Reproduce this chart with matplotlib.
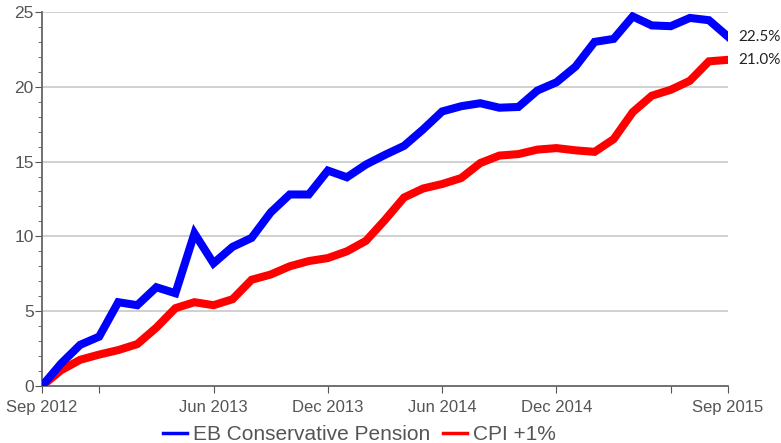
import numpy as np
import pandas as pd
import matplotlib
matplotlib.use("Agg")
import matplotlib.pyplot as plt
from matplotlib.ticker import MultipleLocator

months = pd.date_range("2012-09-01", "2015-09-01", freq="MS")

eb_pension = [0.0, 1.5, 2.75, 3.3, 5.6, 5.4, 6.6, 6.2, 10.2, 8.2, 9.3, 9.9,
              11.6, 12.8, 12.8, 14.4, 13.95, 14.8, 15.45, 16.05, 17.15, 18.35, 18.7, 18.9,
              18.6, 18.65, 19.75, 20.3, 21.35, 23.0, 23.2, 24.7, 24.1, 24.05, 24.6, 24.45,
              23.35]
cpi_plus1 = [0.0, 1.05, 1.75, 2.1, 2.4, 2.8, 3.9, 5.2, 5.6, 5.4, 5.8, 7.1,
             7.45, 8.0, 8.35, 8.55, 9.0, 9.7, 11.1, 12.6, 13.2, 13.5, 13.9, 14.9,
             15.4, 15.5, 15.8, 15.9, 15.75, 15.65, 16.5, 18.3, 19.4, 19.8, 20.4, 21.7,
             21.8]

tick_labels = {"2012-09": "Sep 2012", "2012-12": "", "2013-06": "Jun 2013",
               "2013-12": "Dec 2013", "2014-06": "Jun 2014", "2014-12": "Dec 2014",
               "2015-06": "", "2015-09": "Sep 2015"}
end_labels = ["22.5%", "21.0%"]

sans = ["Liberation Sans", "DejaVu Sans"]

x = np.arange(len(months))
month_keys = [m.strftime("%Y-%m") for m in months]

fig = plt.figure(figsize=(7.81, 4.43), dpi=100)
ax = fig.add_axes([0.0538, 0.1287, 0.8783, 0.8443])

for y in [5, 10, 15, 20, 25]:
    ax.axhline(y, color="#c8c8c8", lw=1.2, zorder=0)

l1, = ax.plot(x, eb_pension, color="#0000ff", lw=5.8, solid_joinstyle="miter", zorder=3)
l2, = ax.plot(x, cpi_plus1, color="#ff0000", lw=5.8, solid_joinstyle="miter", zorder=2)

ax.set_xlim(0, len(months) - 1)
ax.set_ylim(0, 25)

tick_pos = [month_keys.index(k) for k in tick_labels]
ax.set_xticks(tick_pos)
ax.set_xticklabels(list(tick_labels.values()), family=sans, fontsize=12, color="#555555")
ax.yaxis.set_major_locator(MultipleLocator(5))
ax.yaxis.set_minor_locator(MultipleLocator(1))
for lab in ax.get_yticklabels():
    lab.set_family(sans)
ax.tick_params(axis="y", labelsize=12.5, labelcolor="#555555", length=5, color="#555555", pad=1)
ax.tick_params(axis="y", which="minor", length=3, color="#555555")
ax.tick_params(axis="x", length=5, color="#555555", pad=5)

for s in ["top", "right"]:
    ax.spines[s].set_visible(False)
for s in ["left", "bottom"]:
    ax.spines[s].set_color("#666666")
    ax.spines[s].set_linewidth(1.3)

ax.text(len(months) - 1 + 0.55, eb_pension[-1], end_labels[0], fontsize=11,
        family=["Lato", "DejaVu Sans"], color="#222222", va="center")
ax.text(len(months) - 1 + 0.55, cpi_plus1[-1], end_labels[1], fontsize=11,
        family=["Lato", "DejaVu Sans"], color="#222222", va="center")

fig.legend([l1, l2], ["EB Conservative Pension", "CPI +1%"], loc="lower center",
           bbox_to_anchor=(0.46, -0.045), ncol=2, frameon=False, handlelength=1.15,
           handletextpad=0.3, columnspacing=0.6,
           prop={"family": sans, "size": 15}, labelcolor="#555555")
for h in fig.legends[0].get_lines():
    h.set_linewidth(2.5)

plt.savefig("out.png", dpi=100)
